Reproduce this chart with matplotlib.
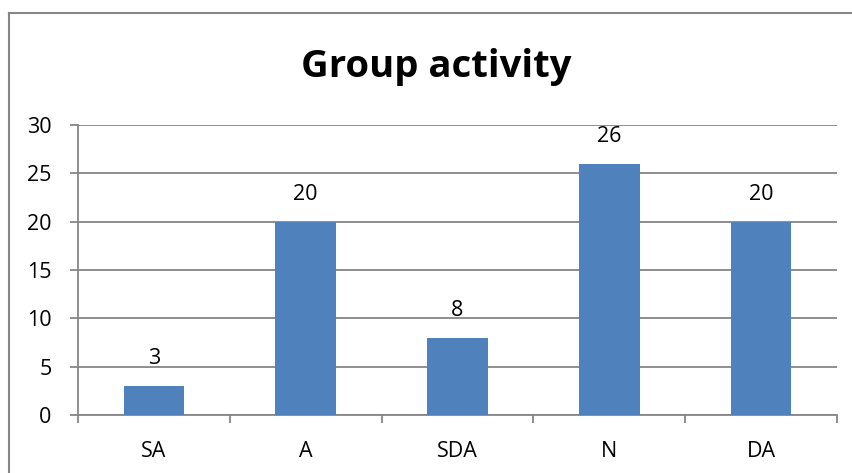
import matplotlib.pyplot as plt
from matplotlib.lines import Line2D
import numpy as np

categories = ["SA", "A", "SDA", "N", "DA"]
values = [3, 20, 8, 26, 20]

W, H = 853, 473
plt.rcParams['font.family'] = ['Open Sans', 'DejaVu Sans']

fig = plt.figure(figsize=(W / 100, H / 100), dpi=100)
ax = fig.add_axes([78 / W, (H - 415) / H, (837 - 78) / W, (415 - 125) / H])

grey = '#868686'
bar_color = '#4F81BD'

x = np.arange(len(categories))
ax.bar(x, values, width=0.4, color=bar_color, zorder=3)

for xi, v in zip(x, values):
    ax.annotate(str(v), (xi, v), xytext=(0, 19.5), textcoords='offset points',
                ha='center', va='center', fontsize=15.5, color='black')

ax.set_xlim(-0.5, len(categories) - 0.5)
ax.set_ylim(0, 30)
ax.set_yticks(np.arange(0, 31, 5))
ax.yaxis.grid(True, color=grey, linewidth=1.3, zorder=0)
ax.set_axisbelow(True)

ax.set_xticks(x)
ax.set_xticklabels(categories)
ax.set_xticks(np.arange(-0.5, len(categories), 1), minor=True)
ax.tick_params(axis='x', which='major', length=0, pad=19, labelsize=15.5)
ax.tick_params(axis='x', which='minor', length=6, width=1.3, color=grey, direction='out')
ax.tick_params(axis='y', length=6, width=1.3, color=grey, pad=13, labelsize=15.5)

for side in ['top', 'right']:
    ax.spines[side].set_visible(False)
for side in ['left', 'bottom']:
    ax.spines[side].set_color(grey)
    ax.spines[side].set_linewidth(1.3)

fig.text(436 / W, 1 - 67 / H, "Group activity", ha='center', va='center',
         fontsize=27.5, fontweight='bold')

# outer chart frame
fig.add_artist(Line2D([9 / W, 9 / W], [0, 1 - 13 / H], color=grey, linewidth=1.5))
fig.add_artist(Line2D([9 / W, 1], [1 - 13 / H, 1 - 13 / H], color=grey, linewidth=1.5))

fig.savefig('out.png', dpi=100)
